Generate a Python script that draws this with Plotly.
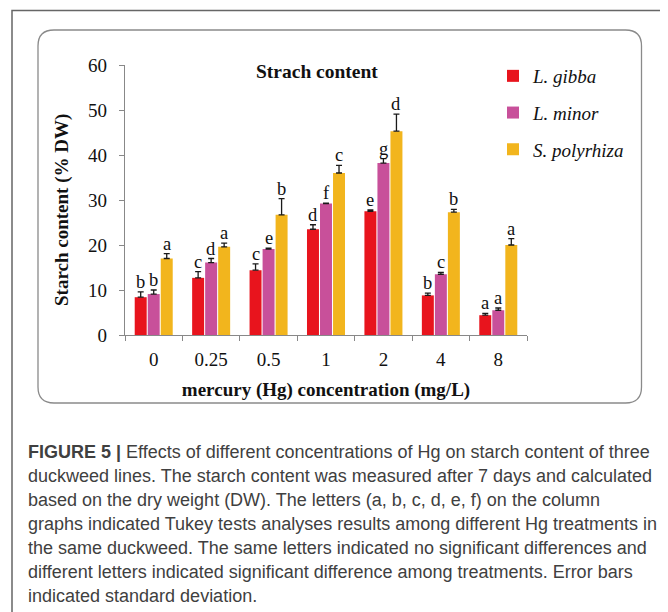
import plotly.graph_objects as go

# data
conc = ["0", "0.25", "0.5", "1", "2", "4", "8"]
gibba = [8.4, 12.7, 14.4, 23.5, 27.5, 8.8, 4.4]
gibba_sd = [1.2, 1.4, 1.4, 1.0, 0.3, 0.5, 0.4]
minor = [9.1, 16.1, 19.1, 29.2, 38.2, 13.5, 5.5]
minor_sd = [0.9, 0.9, 0.2, 0.1, 1.0, 0.4, 0.5]
polyrhiza = [17.0, 19.6, 26.7, 36.0, 45.3, 27.3, 20.0]
polyrhiza_sd = [1.1, 0.8, 3.6, 1.7, 3.8, 0.6, 1.4]
gibba_letters = ["b", "c", "c", "d", "e", "b", "a"]
minor_letters = ["b", "d", "e", "f", "g", "c", "a"]
polyrhiza_letters = ["a", "a", "b", "c", "d", "b", "a"]

caption = [
    "<b>FIGURE 5 |</b> Effects of different concentrations of Hg on starch content of three",
    "duckweed lines. The starch content was measured after 7 days and calculated",
    "based on the dry weight (DW). The letters (a, b, c, d, e, f) on the column",
    "graphs indicated Tukey tests analyses results among different Hg treatments in",
    "the same duckweed. The same letters indicated no significant differences and",
    "different letters indicated significant difference among treatments. Error bars",
    "indicated standard deviation.",
]

W_FIG, H_FIG = 668, 612
OFF = 8                          # page body margin
L, R, T, B = 125, 527, 65, 335   # plot area in reference pixels
PW, PH = R - L, B - T


def px_x(p):
    return (p - L) / PW


def px_y(p):
    return (B - p) / PH


serif = "Liberation Serif"
ink = "#111111"
series = [
    ("L. gibba", gibba, gibba_sd, gibba_letters, "#E8141D"),
    ("L. minor", minor, minor_sd, minor_letters, "#C8509A"),
    ("S. polyrhiza", polyrhiza, polyrhiza_sd, polyrhiza_letters, "#F2B51D"),
]

fig = go.Figure()
for i, (name, vals, sd, letters, col) in enumerate(series):
    fig.add_trace(go.Bar(
        x=conc, y=vals, name=name, legendgroup=name,
        marker=dict(color=col, line=dict(width=0)),
        error_y=dict(type="data", symmetric=False, array=sd,
                     arrayminus=[0] * len(sd), color="#1a1a1a",
                     thickness=1.3, width=3),
    ))

bargap, groupgap = 0.32, 0.08
cat_px = PW / len(conc)
slot = cat_px * (1 - bargap) / 3

annotations = []
for i, (name, vals, sd, letters, col) in enumerate(series):
    for k, (v, s, lt) in enumerate(zip(vals, sd, letters)):
        annotations.append(dict(
            x=k, y=v + s, xref="x", yref="y", text=lt, showarrow=False,
            xshift=(i - 1) * slot, yanchor="bottom", yshift=-2,
            font=dict(family=serif, size=18.5, color=ink),
        ))

annotations.append(dict(
    x=px_x(317), y=px_y(72), xref="paper", yref="paper",
    xanchor="center", yanchor="middle",
    text="<b>Strach content</b>", showarrow=False,
    font=dict(family=serif, size=19.5, color=ink),
))
annotations.append(dict(
    x=px_x(62), y=px_y(210), xref="paper", yref="paper",
    xanchor="center", yanchor="middle", textangle=-90,
    text="<b>Starch content (% DW)</b>", showarrow=False,
    font=dict(family=serif, size=19, color=ink),
))

for k, line in enumerate(caption):
    annotations.append(dict(
        x=px_x(26), y=px_y(452 + 24 * k), xref="paper", yref="paper",
        xanchor="left", yanchor="middle", text=line, showarrow=False,
        font=dict(family="Liberation Sans", size=18, color="#404040"),
    ))

# rounded inner panel
x0, x1, y0, y1, r = 38, 641.5, 30, 403, 16
path = (
    f"M {px_x(x0 + r)},{px_y(y0)} L {px_x(x1 - r)},{px_y(y0)} "
    f"Q {px_x(x1)},{px_y(y0)} {px_x(x1)},{px_y(y0 + r)} "
    f"L {px_x(x1)},{px_y(y1 - r)} Q {px_x(x1)},{px_y(y1)} {px_x(x1 - r)},{px_y(y1)} "
    f"L {px_x(x0 + r)},{px_y(y1)} Q {px_x(x0)},{px_y(y1)} {px_x(x0)},{px_y(y1 - r)} "
    f"L {px_x(x0)},{px_y(y0 + r)} Q {px_x(x0)},{px_y(y0)} {px_x(x0 + r)},{px_y(y0)} Z"
)
shapes = [
    dict(type="rect", xref="paper", yref="paper",
         x0=px_x(12), x1=px_x(665.5), y0=px_y(640), y1=px_y(10.5),
         line=dict(color="#666666", width=1.5)),
    dict(type="path", xref="paper", yref="paper", path=path,
         line=dict(color="#8a8a8a", width=1.3)),
]

fig.update_layout(
    width=W_FIG, height=H_FIG,
    margin=dict(l=L - OFF, r=W_FIG - (R - OFF), t=T - OFF, b=H_FIG - (B - OFF),
                autoexpand=False),
    paper_bgcolor="white", plot_bgcolor="white",
    barmode="group", bargap=bargap, bargroupgap=groupgap,
    font=dict(family=serif, color=ink),
    showlegend=True,
    legend=dict(x=px_x(493), y=px_y(57), xanchor="left", yanchor="top",
                font=dict(family=serif, size=19, style="italic", color=ink),
                tracegroupgap=9, bgcolor="rgba(0,0,0,0)"),
    annotations=annotations,
    shapes=shapes,
)
fig.update_xaxes(
    type="category", range=[-0.5, len(conc) - 0.5],
    showline=True, linecolor="#888888", linewidth=1.3,
    ticks="outside", tickson="boundaries", ticklen=5, tickcolor="#888888",
    ticklabelstandoff=7,
    tickfont=dict(family=serif, size=19, color=ink),
    showgrid=False,
    title=dict(text="<b>mercury (Hg) concentration (mg/L)</b>",
               font=dict(family=serif, size=19, color=ink), standoff=13),
)
fig.update_yaxes(
    range=[0, 60], dtick=10,
    showline=True, linecolor="#888888", linewidth=1.3,
    ticks="outside", ticklen=5, tickcolor="#888888",
    ticklabelstandoff=8,
    tickfont=dict(family=serif, size=19, color=ink),
    showgrid=False, zeroline=False,
)

fig.write_html("out.html")
